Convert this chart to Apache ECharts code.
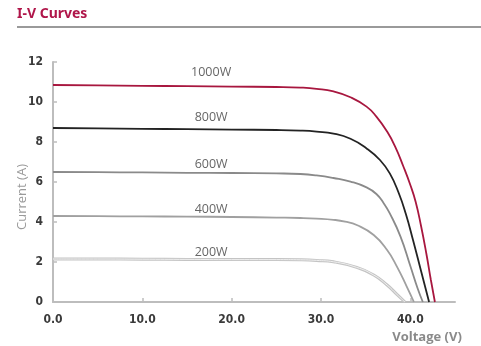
<!DOCTYPE html>
<html><head><meta charset="utf-8">
<script src="https://cdn.jsdelivr.net/npm/echarts@6/dist/echarts.min.js"></script>
<style>html,body{margin:0;padding:0;background:#fff}#c{width:481px;height:346px}</style>
</head><body><div id="c"></div>
<script>
var titleText = 'I-V Curves';
var xName = 'Voltage (V)';
var yName = 'Current (A)';
var seriesNames = ['1000W','800W','600W','400W','200W'];
var curve1000 = [[0,10.85],[5,10.83],[10,10.81],[15,10.79],[20,10.77],[25,10.75],[27.7,10.72],[29.5,10.66],[31.4,10.53],[33.3,10.24],[35.1,9.77],[36.2,9.27],[37.4,8.52],[38.3,7.77],[39.2,6.8],[40.0,5.85],[40.6,5.0],[41.2,3.8],[41.8,2.4],[42.3,1.1],[42.75,0]];
var curve800 = [[0,8.7],[5,8.68],[10,8.66],[15,8.64],[20,8.62],[25,8.6],[27.7,8.57],[29.5,8.52],[31.4,8.42],[33.3,8.16],[35.1,7.68],[36.6,7.1],[37.7,6.43],[38.7,5.45],[39.5,4.4],[40.3,3.1],[41.2,1.55],[42.1,0]];
var curve600 = [[0,6.5],[5,6.49],[10,6.48],[15,6.46],[20,6.45],[25,6.43],[27.7,6.4],[29.5,6.33],[31.4,6.2],[33.3,6.02],[35.1,5.73],[36.2,5.4],[37.0,4.95],[37.7,4.43],[38.9,3.27],[40.0,1.8],[40.8,0.7],[41.4,0]];
var curve400 = [[0,4.3],[5,4.29],[10,4.28],[15,4.27],[20,4.25],[25,4.22],[27.7,4.2],[29.5,4.17],[31.4,4.11],[32.7,4.02],[34.0,3.85],[35.9,3.35],[37.4,2.6],[38.5,1.77],[39.6,0.77],[40.4,0]];
var curve200 = [[0,2.15],[5,2.15],[10,2.14],[15,2.13],[20,2.12],[25,2.12],[27.7,2.11],[29.5,2.08],[31.4,2.01],[34.0,1.73],[35.9,1.35],[37.4,0.85],[38.5,0.38],[39.4,0]];
var curves = [curve1000, curve800, curve600, curve400, curve200];
var colors = ['#a8173f','#232323','#8a8a8a','#a0a0a0','#c4c4c4'];
var labelY = [11.5, 9.25, 6.9, 4.65, 2.5];
var smoothness = 0.5;

var chart = echarts.init(document.getElementById('c'), null, {renderer:'canvas'});
var series = curves.map(function(d,i){
  return {
    type:'line', name: seriesNames[i], data:d, smooth:smoothness,
    symbol:'none', lineStyle:{color:colors[i], width: i===4 ? 3 : 1.8}, z: 10 - i,
    markPoint:{symbol:'circle', symbolSize:0, silent:true,
      label:{show:true, formatter: seriesNames[i], color:'#666', fontFamily:'Open Sans', fontSize:12.5, position:'inside'},
      data:[{coord:[17.7, labelY[i]]}]}
  };
});
// inner highlight of the hollow 200W line
series.push({type:'line', data:curve200, smooth:smoothness, symbol:'none', silent:true, z:7,
  lineStyle:{color:'#efefef', width:1}});
var tickFont = 'DejaVu Sans Condensed';
chart.setOption({
  animation:false,
  grid:{left:53, top:62, right:26, bottom:44},
  xAxis:{type:'value', min:0, max:45, interval:10,
    axisLine:{lineStyle:{color:'#bdbdbd', width:2}},
    axisTick:{inside:true, length:4, lineStyle:{color:'#bdbdbd', width:1.5}},
    splitLine:{show:false},
    axisLabel:{showMaxLabel:false, color:'#3a3a3a', fontWeight:'bold', fontFamily:tickFont, fontSize:12, margin:12,
      formatter:function(v){return v.toFixed(1);}}
  },
  yAxis:{type:'value', min:0, max:12, interval:2,
    axisLine:{show:true, lineStyle:{color:'#bdbdbd', width:2}},
    axisTick:{show:true, inside:true, length:4, lineStyle:{color:'#bdbdbd', width:1.5}},
    splitLine:{show:false},
    axisLabel:{color:'#3a3a3a', fontWeight:'bold', fontFamily:tickFont, fontSize:12, margin:10}
  },
  series: series,
  graphic:[
    {type:'text', left:17, top:7, style:{text:titleText, fill:'#b0164a', font:'bold 14px "Noto Sans"'}},
    {type:'rect', shape:{x:17, y:26, width:464, height:2}, style:{fill:'#9a9a9a'}},
    {type:'text', x:22, y:197, rotation:Math.PI/2, style:{text:yName, fill:'#9a9a9a', font:'13px "Open Sans"', align:'center', verticalAlign:'middle'}},
    {type:'text', x:427, y:337, style:{text:xName, fill:'#8a8a8a', font:'bold 13px "Open Sans"', align:'center', verticalAlign:'middle'}}
  ]
});
</script></body></html>
